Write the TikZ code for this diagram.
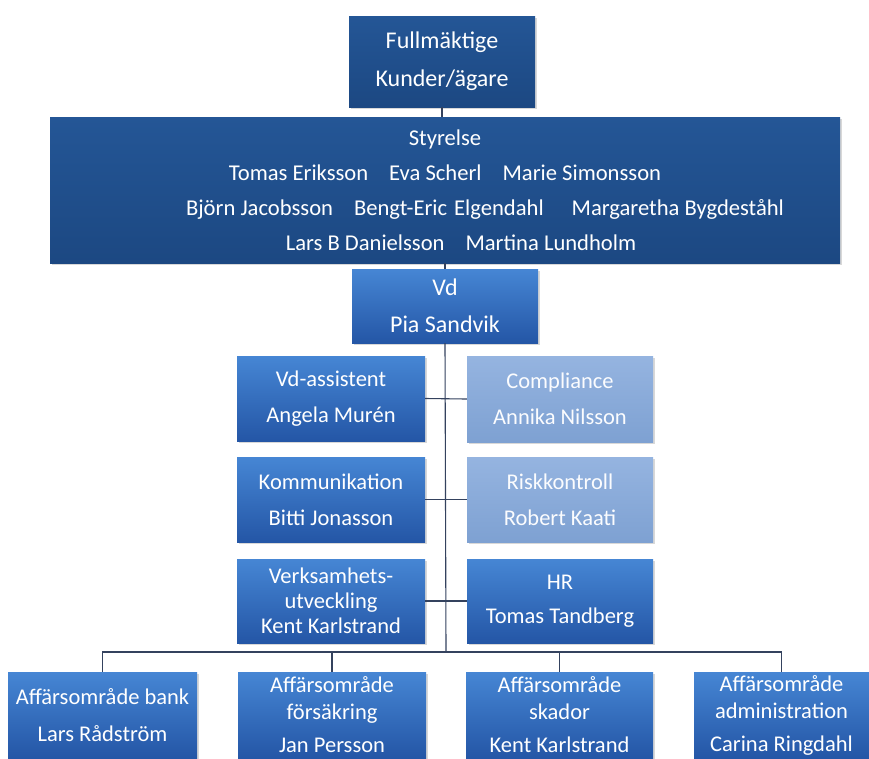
\documentclass[tikz,border=0pt]{standalone}
\usepackage{fontspec}
\setmainfont{Carlito}
\usetikzlibrary{shadows}
\definecolor{navyT}{HTML}{245696}
\definecolor{navyB}{HTML}{1C4882}
\definecolor{midT}{HTML}{4686D4}
\definecolor{midB}{HTML}{2456A6}
\definecolor{liteT}{HTML}{95B4E0}
\definecolor{liteB}{HTML}{7EA1D2}
\definecolor{linec}{HTML}{34425E}
\begin{document}
\begin{tikzpicture}[x=1pt,y=-1pt,
  box/.style={rectangle, inner sep=2pt, align=center, text=white,
    drop shadow={opacity=0.3, shadow xshift=1.5pt, shadow yshift=-1.5pt}},
  navybox/.style={box, top color=navyT, bottom color=navyB},
  midbox/.style={box, top color=midT, bottom color=midB},
  litebox/.style={box, top color=liteT, bottom color=liteB, text=white!96!liteT},
  conn/.style={draw=linec, line width=1.1pt},
  fA/.style={font=\fontsize{24}{38}\selectfont},
  fB/.style={font=\fontsize{22.6}{35}\selectfont}]
\useasboundingbox[fill=white] (0,0) rectangle (869,758);

\node[navybox, fA, minimum width=186pt, minimum height=91pt] (full) at (442,61.5) {Fullmäktige\\Kunder/ägare};
\node[navybox, fB, minimum width=790pt, minimum height=146pt] (sty) at (445,190)
  {Styrelse\\
   Tomas Eriksson\hspace{21pt}Eva Scherl\hspace{21pt}Marie Simonsson\\
   \hspace*{80pt}Björn Jacobsson\hspace{21pt}Bengt-Eric\hspace{7pt}Elgendahl\hspace{28pt}Margaretha Bygdeståhl\\
   \hspace*{32pt}Lars B Danielsson\hspace{21pt}Martina Lundholm};
\node[midbox, font=\fontsize{24}{37}\selectfont, minimum width=186pt, minimum height=74pt] (vd) at (445,306) {Vd\\Pia Sandvik};

\node[midbox, font=\fontsize{22.5}{36}\selectfont, minimum width=188pt, minimum height=85pt] (va) at (331,398.5) {Vd-assistent\\Angela Murén};
\node[litebox, font=\fontsize{22.5}{36}\selectfont, minimum width=186pt, minimum height=86pt] (comp) at (560,399) {Compliance\\Annika Nilsson};
\node[midbox, font=\fontsize{22.5}{36}\selectfont, minimum width=188pt, minimum height=85pt] (kom) at (331,499.5) {Kommunikation\\Bitti Jonasson};
\node[litebox, font=\fontsize{22.5}{36}\selectfont, minimum width=186pt, minimum height=85pt] (risk) at (560,499.5) {Riskkontroll\\Robert Kaati};
\node[midbox, font=\fontsize{22.5}{25}\selectfont, minimum width=188pt, minimum height=84pt] (verk) at (331,601) {Verksamhets-\\utveckling\\Kent Karlstrand};
\node[midbox, font=\fontsize{22.5}{34}\selectfont, minimum width=186pt, minimum height=84pt] (hr) at (560,601) {HR\\Tomas Tandberg};

\node[midbox, font=\fontsize{22.5}{37}\selectfont, minimum width=189pt, minimum height=86pt] (b1) at (102.5,715) {Affärsområde bank\\Lars Rådström};
\node[midbox, font=\fontsize{22.5}{27}\selectfont, minimum width=188pt, minimum height=86pt] (b2) at (332,715) {Affärsområde\\försäkring\\[6pt]Jan Persson};
\node[midbox, font=\fontsize{22.5}{27}\selectfont, minimum width=187pt, minimum height=86pt] (b3) at (559.5,715) {Affärsområde\\skador\\[6pt]Kent Karlstrand};
\node[midbox, font=\fontsize{22.5}{27}\selectfont, minimum width=175pt, minimum height=86pt] (b4) at (781.5,715) {Affärsområde\\administration\\[6pt]Carina Ringdahl};

\coordinate (bus) at (446,652);
\draw[conn] (full.south) -- (full.south|-sty.north);
\draw[conn] (vd.north|-sty.south) -- (vd.north);
\draw[conn] (vd.south) -- (bus);
\draw[conn] (va.east) -- (comp.west);
\draw[conn] (kom.east) -- (risk.west);
\draw[conn] (verk.east) -- (hr.west);
\draw[conn] (b1.north) |- (bus) -| (b4.north);
\draw[conn] (b2.north) -- (b2.north|-bus);
\draw[conn] (b3.north) -- (b3.north|-bus);
\end{tikzpicture}
\end{document}
